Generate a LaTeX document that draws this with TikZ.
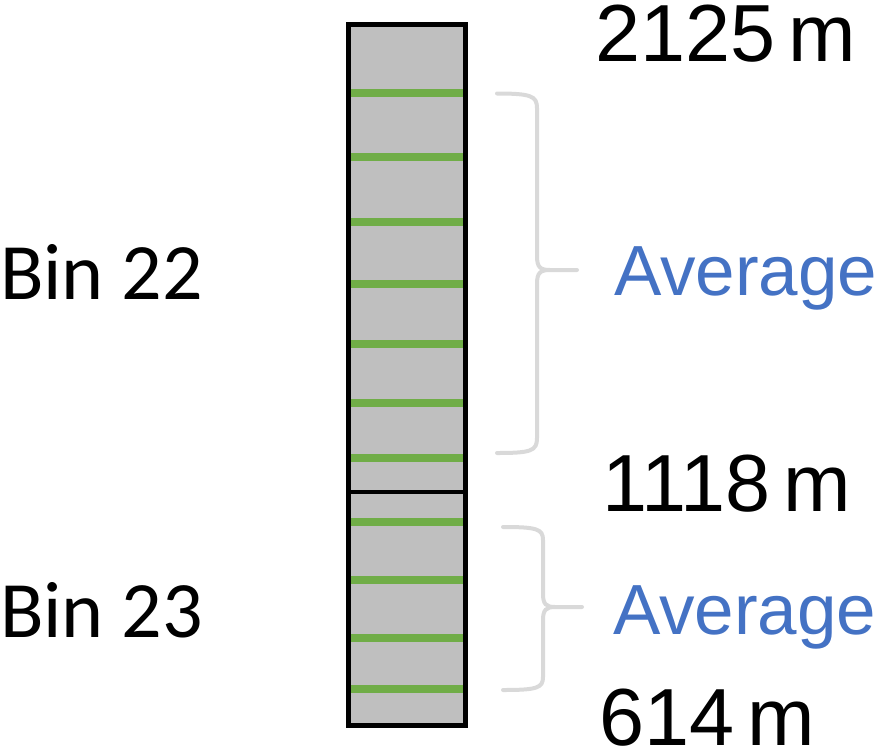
\documentclass[tikz,border=0pt]{standalone}
\usepackage{fontspec}
\setmainfont{Liberation Sans}
\newfontfamily\calibri{Carlito}
\definecolor{bargray}{HTML}{BFBFBF}
\definecolor{tickgreen}{HTML}{70AD47}
\definecolor{bracegray}{HTML}{D9D9D9}
\definecolor{avgblue}{HTML}{4472C4}
\tikzset{
  tick/.style={tickgreen, line width=8pt},
  bracestyle/.style={bracegray, line width=4pt, line cap=round},
  depth/.style={anchor=base west, inner sep=0pt, outer sep=0pt, font=\fontsize{81}{81}\selectfont},
  binlabel/.style={anchor=base west, inner sep=0pt, outer sep=0pt, font=\calibri\fontsize{80}{80}\selectfont},
  avg/.style={anchor=base west, inner sep=0pt, outer sep=0pt, text=avgblue, font=\fontsize{71}{71}\selectfont}
}
\begin{document}
\begin{tikzpicture}[x=1pt,y=-1pt]
\useasboundingbox (0,0) rectangle (884,750);
% bar fill
\fill[bargray] (348,24) rectangle (465,725.5);
% green ticks
\foreach \yy in {93.3,157,222,284,344,403,458.3,522.3,580,638,689.3}
  \draw[tick] (348,\yy) -- (463,\yy);
% bar outline and divider
\draw[black, line width=5pt] (348,24) rectangle (465,725.5);
\draw[black, line width=4pt] (348,491.5) -- (465,491.5);
% brace 1
\draw[bracestyle] (497,93.5) .. controls (531,93.5) and (537,96) .. (537,108) -- (537,256)
  .. controls (537,267) and (540,270) .. (550,270) -- (577,270);
\draw[bracestyle] (550,270) .. controls (540,270) and (537,273) .. (537,284) -- (537,438)
  .. controls (537,451) and (531,453) .. (497,453);
% brace 2
\draw[bracestyle] (503,527) .. controls (537,527) and (543,529) .. (543,540) -- (543,594)
  .. controls (543,604) and (546,607) .. (555,607) -- (582,607);
\draw[bracestyle] (555,607) .. controls (546,607) and (543,610) .. (543,620) -- (543,677)
  .. controls (543,688) and (537,690) .. (503,690);
% texts
\node[depth] (d2125) at (595,61) {2125\,m};
\node[depth] (d1118) at (602,511) {1118\,m};
\node[depth] (d614) at (599,745) {614\,m};
\node[binlabel] (bin22) at (0,299) {Bin 22};
\node[binlabel] (bin23) at (0,637) {Bin 23};
\node[avg] (avg22) at (614,295) {Average};
\node[avg] (avg23) at (613,634) {Average};
\end{tikzpicture}
\end{document}
